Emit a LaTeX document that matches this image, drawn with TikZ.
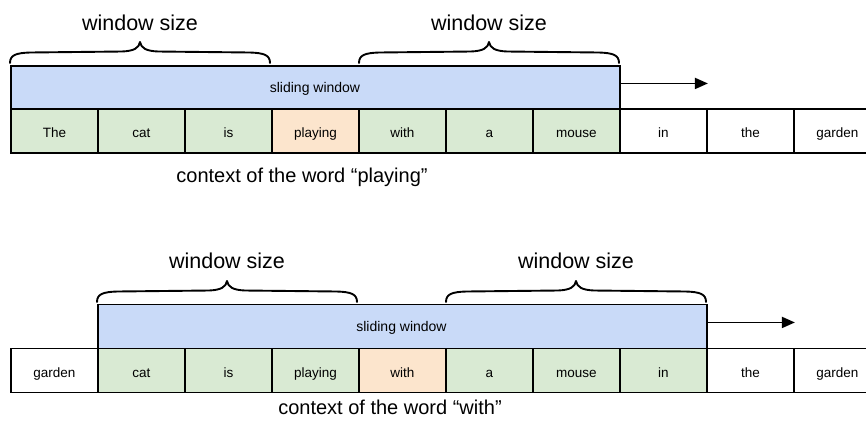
\documentclass[tikz,border=0pt]{standalone}
\usepackage{fontspec}
\setmainfont{Liberation Sans}
\usetikzlibrary{arrows.meta}
\definecolor{wblue}{HTML}{C9DAF8}
\definecolor{wgreen}{HTML}{D9EAD3}
\definecolor{worange}{HTML}{FCE5CD}
\begin{document}
\begin{tikzpicture}[x=1pt,y=-1pt,
  cell/.style={draw, line width=1.9pt, minimum width=87pt, minimum height=44pt, anchor=north west, inner sep=0pt, text height=14pt, text depth=0pt, font=\fontsize{13.5}{15}\selectfont},
  ctx/.style={cell, fill=wgreen},
  focus/.style={cell, fill=worange},
  plain/.style={cell, fill=white},
  slidewin/.style={draw, fill=wblue, line width=1.9pt, anchor=north west, inner sep=0pt},
  swtext/.style={anchor=base, inner sep=0pt, font=\fontsize{14}{16}\selectfont},
  bigtext/.style={anchor=base, inner sep=0pt, font=\fontsize{21.5}{24}\selectfont},
  ctxtext/.style={anchor=base, inner sep=0pt, font=\fontsize{20}{24}\selectfont},
  pics/gbrace/.style={code={
    \draw[line width=1.9pt, line cap=round, line join=round]
      (0,0) .. controls (0,-8) and (6,-10) .. (20,-10.5)
      -- (#1/2-18,-11.5) .. controls (#1/2-6,-12) and (#1/2-1,-15) .. (#1/2,-21)
      .. controls (#1/2+1,-15) and (#1/2+6,-12) .. (#1/2+18,-11.5)
      -- (#1-20,-10.5) .. controls (#1-6,-10) and (#1,-8) .. (#1,0);}},
  moveto/.style={line width=1.9pt, -{Triangle[length=13pt,width=11pt]}}]
\useasboundingbox (0,0) rectangle (866,424);
% ---------- top ----------
\node[slidewin, minimum width=609pt, minimum height=43pt] (swA) at (10,65) {};
\node[swtext] (swAt) at (315,92) {sliding window};
\node[ctx]   (a1)  at (10,108)  {The};
\node[ctx]   (a2)  at (97,108)  {cat};
\node[ctx]   (a3)  at (184,108) {is};
\node[focus] (a4)  at (271,108) {playing};
\node[ctx]   (a5)  at (358,108) {with};
\node[ctx]   (a6)  at (445,108) {a};
\node[ctx]   (a7)  at (532,108) {mouse};
\node[plain] (a8)  at (619,108) {in};
\node[plain] (a9)  at (706,108) {the};
\node[plain] (a10) at (793,108) {garden};
\coordinate (aS) at ([yshift=4pt]swA.east);
\coordinate (aE) at ([xshift=87pt]aS);
\draw[moveto] (aS) -- (aE);
\coordinate (b1s) at (10,63);
\coordinate (b2s) at (359,63);
\pic at (b1s) {gbrace=260};
\pic at (b2s) {gbrace=260};
\node[bigtext] (wsA1) at (140,30) {window size};
\node[bigtext] (wsA2) at (489,30) {window size};
\node[ctxtext] (ctxA) at (302,182) {context of the word “playing”};
% ---------- bottom ----------
\node[slidewin, minimum width=609pt, minimum height=44pt] (swB) at (97,303.5) {};
\node[swtext] (swBt) at (401.5,331) {sliding window};
\node[plain] (c1)  at (10,347.5)  {garden};
\node[ctx]   (c2)  at (97,347.5)  {cat};
\node[ctx]   (c3)  at (184,347.5) {is};
\node[ctx]   (c4)  at (271,347.5) {playing};
\node[focus] (c5)  at (358,347.5) {with};
\node[ctx]   (c6)  at (445,347.5) {a};
\node[ctx]   (c7)  at (532,347.5) {mouse};
\node[ctx]   (c8)  at (619,347.5) {in};
\node[plain] (c9)  at (706,347.5) {the};
\node[plain] (c10) at (793,347.5) {garden};
\coordinate (cS) at ([yshift=4pt]swB.east);
\coordinate (cE) at ([xshift=87pt]cS);
\draw[moveto] (cS) -- (cE);
\coordinate (d1s) at (97,302);
\coordinate (d2s) at (446,302);
\pic at (d1s) {gbrace=260};
\pic at (d2s) {gbrace=260};
\node[bigtext] (wsB1) at (227,268) {window size};
\node[bigtext] (wsB2) at (576,268) {window size};
\node[ctxtext] (ctxB) at (390,414) {context of the word “with”};
\end{tikzpicture}
\end{document}
